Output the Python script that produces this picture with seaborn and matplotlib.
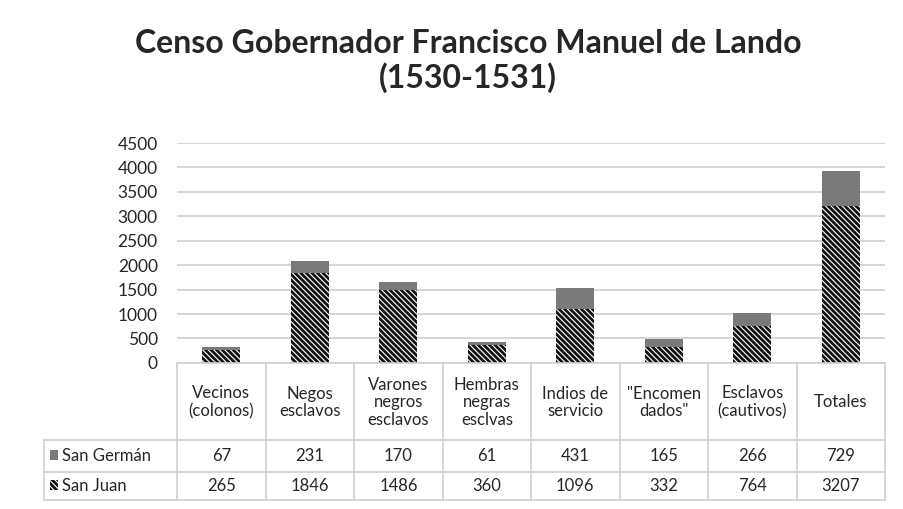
import matplotlib
matplotlib.use("Agg")
import matplotlib.pyplot as plt
import matplotlib.transforms as mtransforms
from matplotlib.patches import Rectangle
import seaborn as sns
import pandas as pd

# --- data ---
categories = ["Vecinos\n(colonos)", "Negos\nesclavos", "Varones\nnegros\nesclavos",
              "Hembras\nnegras\nesclvas", "Indios de\nservicio", "\"Encomen\ndados\"",
              "Esclavos\n(cautivos)", "Totales"]
san_german = [67, 231, 170, 61, 431, 165, 266, 729]
san_juan = [265, 1846, 1486, 360, 1096, 332, 764, 3207]
series_names = ["San Germán", "San Juan"]
y_ticks = [0, 500, 1000, 1500, 2000, 2500, 3000, 3500, 4000, 4500]

df = pd.DataFrame({"cat": categories, "sg": san_german, "sj": san_juan})
df["total"] = df["sg"] + df["sj"]

sns.set_style("white")
plt.rcParams["font.family"] = ["Lato", "DejaVu Sans"]
plt.rcParams["hatch.linewidth"] = 2.0

fig = plt.figure(figsize=(9.04, 5.09), dpi=100)
ax = fig.add_axes([0.196, 0.287, 0.783, 0.432])

grey = "#7a7a7a"
line_col = "#cfcfcf"
txt = "#262626"
fs = 12

# stacked bars: full height in grey, San Juan hatched on top of it
sns.barplot(data=df, x="cat", y="total", color=grey, saturation=1, width=0.43,
            linewidth=0, ax=ax)
sns.barplot(data=df, x="cat", y="sj", color="white", saturation=1, width=0.43,
            edgecolor="#111111", linewidth=0, hatch="\\\\\\\\\\\\", ax=ax)

ax.set_ylim(0, 4500)
ax.set_xlim(-0.5, len(categories) - 0.5)
ax.set_yticks(y_ticks)
ax.set_yticklabels([str(v) for v in y_ticks], fontsize=12.5, color=txt)
ax.tick_params(axis="y", length=0, pad=14)
ax.set_xticks([])
ax.set_xlabel("")
ax.set_ylabel("")
ax.yaxis.grid(True, color=line_col, linewidth=1.2)
ax.set_axisbelow(True)
for s in ["top", "right", "left"]:
    ax.spines[s].set_visible(False)
ax.spines["bottom"].set_color(line_col)
ax.spines["bottom"].set_linewidth(1.2)

# --- data table under the axis ---
tr = mtransforms.blended_transform_factory(ax.transData, ax.transAxes)
y_head_bot, y_r1_bot, y_r2_bot = -0.35, -0.495, -0.623
n = len(categories)
left_x = -2.0
for i in range(n + 1):
    ax.plot([i - 0.5, i - 0.5], [0, y_r2_bot], color=line_col, lw=1.2,
            transform=tr, clip_on=False)
for yy in [y_head_bot, y_r1_bot, y_r2_bot]:
    ax.plot([left_x, n - 0.5], [yy, yy], color=line_col, lw=1.2,
            transform=tr, clip_on=False)
ax.plot([left_x, left_x], [y_head_bot, y_r2_bot], color=line_col, lw=1.2,
        transform=tr, clip_on=False)

for i, c in enumerate(categories):
    ax.text(i, -0.18, c, transform=tr, ha="center", va="center",
            fontsize=fs, color=txt, linespacing=1.15)
    ax.text(i, (y_head_bot + y_r1_bot) / 2, str(san_german[i]), transform=tr,
            ha="center", va="center", fontsize=fs, color=txt)
    ax.text(i, (y_r1_bot + y_r2_bot) / 2, str(san_juan[i]), transform=tr,
            ha="center", va="center", fontsize=fs, color=txt)

# row labels with legend keys
for k, (name, y0, y1) in enumerate([(series_names[0], y_head_bot, y_r1_bot),
                                     (series_names[1], y_r1_bot, y_r2_bot)]):
    ym = (y0 + y1) / 2
    key = Rectangle((left_x + 0.06, ym - 0.02), 0.09, 0.045, transform=tr,
                    clip_on=False, linewidth=0,
                    facecolor=grey if k == 0 else "white",
                    edgecolor="#111111", hatch=None if k == 0 else "\\\\\\\\\\\\")
    ax.add_patch(key)
    ax.text(left_x + 0.2, ym, name, transform=tr, ha="left", va="center",
            fontsize=fs, color=txt)

fig.text(0.518, 0.915, "Censo Gobernador Francisco Manuel de Lando", ha="center",
         va="center", fontsize=23, fontweight="bold", color=txt)
fig.text(0.518, 0.847, "(1530-1531)", ha="center", va="center",
         fontsize=23, fontweight="bold", color=txt)

fig.savefig("out.png", dpi=100, facecolor="white")
plt.close(fig)
